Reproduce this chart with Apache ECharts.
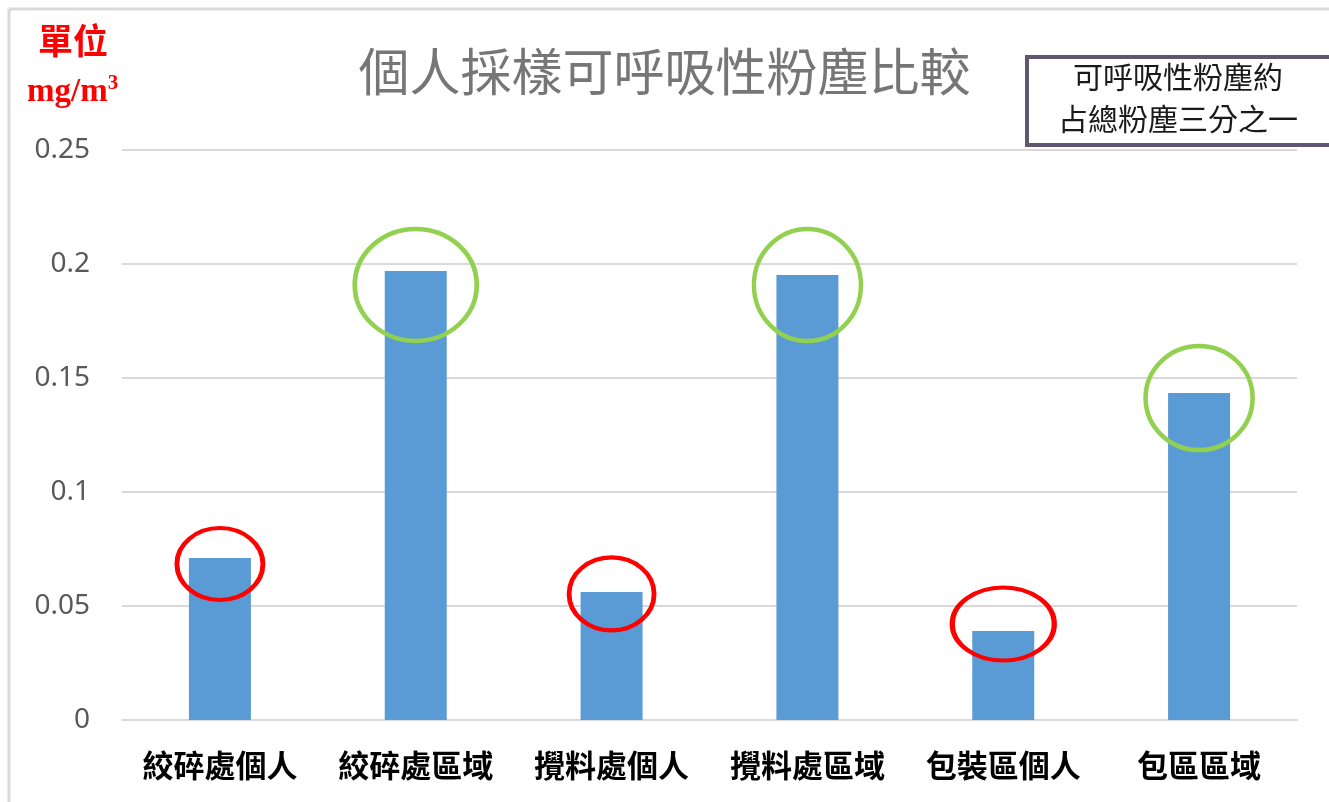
<!DOCTYPE html>
<html>
<head>
<meta charset="utf-8">
<script src="https://cdn.jsdelivr.net/npm/echarts@6/dist/echarts.min.js"></script>
<style>
  html, body { margin: 0; padding: 0; background: #ffffff; }
  #chart { width: 1329px; height: 802px; }
</style>
</head>
<body>
<div id="chart"></div>
<script>
// Sampling locations (personal vs. area sampling)
const categories = ['絞碎處個人', '絞碎處區域', '攪料處個人', '攪料處區域', '包裝區個人', '包區區域'];
// Respirable dust concentration, mg/m3
const dustValues = [0.0711, 0.1969, 0.0561, 0.1952, 0.0390, 0.1434];
// Y axis ticks
const yMin = 0;
const yMax = 0.25;
const yStep = 0.05;
// Highlight rings: centre value and ring size for each bar
const ringCenters = [0.0684, 0.1908, 0.0553, 0.1908, 0.0421, 0.1412];
const ringSizes = [[86, 72], [122, 112], [85, 73], [107, 112], [102, 73], [107, 104]];
const ringColors = ['#ff0000', '#92d050', '#ff0000', '#92d050', '#ff0000', '#92d050'];

const chart = echarts.init(document.getElementById('chart'), null, { renderer: 'canvas' });

const ringData = categories.map((c, i) => ({
  value: [c, ringCenters[i]],
  symbolSize: ringSizes[i],
  itemStyle: { color: 'rgba(0,0,0,0)', borderColor: ringColors[i], borderWidth: 4.5, opacity: 1 }
}));

chart.setOption({
  backgroundColor: '#ffffff',
  animation: false,
  title: {
    text: '個人採樣可呼吸性粉塵比較',
    left: 'center',
    top: 41,
    textStyle: {
      fontFamily: 'Noto Sans CJK TC',
      fontWeight: 'normal',
      fontSize: 51,
      color: '#767676'
    }
  },
  grid: { left: 122, right: 32, top: 150, bottom: 82 },
  xAxis: {
    type: 'category',
    data: categories,
    axisTick: { show: false },
    axisLine: { lineStyle: { color: '#d9d9d9', width: 2 } },
    axisLabel: {
      interval: 0,
      hideOverlap: false,
      margin: 30,
      fontFamily: 'Noto Sans CJK TC',
      fontWeight: 'bold',
      fontSize: 31,
      color: '#000000'
    }
  },
  yAxis: {
    type: 'value',
    min: yMin,
    max: yMax,
    interval: yStep,
    axisLine: { show: false },
    axisTick: { show: false },
    splitLine: { lineStyle: { color: '#d9d9d9', width: 2 } },
    axisLabel: {
      margin: 32,
      fontFamily: 'Noto Sans',
      fontSize: 28,
      color: '#595959',
      formatter: v => String(+v.toFixed(2))
    }
  },
  series: [
    {
      type: 'bar',
      data: dustValues,
      barWidth: 62,
      itemStyle: { color: '#5b9bd5' },
      z: 2
    },
    {
      type: 'scatter',
      data: ringData,
      symbol: 'circle',
      z: 3,
      silent: true
    }
  ],
  graphic: [
    // outer frame (top and left edges)
    { type: 'line', shape: { x1: 9, y1: 9, x2: 1329, y2: 9 }, style: { stroke: '#d9d9d9', lineWidth: 3 } },
    { type: 'line', shape: { x1: 9, y1: 9, x2: 9, y2: 802 }, style: { stroke: '#d9d9d9', lineWidth: 3 } },
    // unit label
    {
      type: 'text', left: 38, top: 23,
      style: { text: '單位', font: 'bold 35px "Noto Sans CJK TC"', fill: '#ff0000' }
    },
    {
      type: 'text', left: 27, top: 73,
      style: {
        text: '{a|mg/m}{b|3}',
        rich: {
          a: { font: 'bold 33px "Liberation Serif"', fill: '#ff0000', verticalAlign: 'bottom' },
          b: { font: 'bold 21px "Liberation Serif"', fill: '#ff0000', verticalAlign: 'top', padding: [0, 0, 15, 0] }
        },
        fill: '#ff0000'
      }
    },
    // note box
    {
      type: 'rect',
      shape: { x: 1027, y: 57, width: 310, height: 88 },
      style: { fill: '#ffffff', stroke: '#5f5670', lineWidth: 4 },
      z: 10
    },
    {
      type: 'text',
      x: 1178, y: 98,
      z: 11,
      style: {
        text: '可呼吸性粉塵約\n占總粉塵三分之一',
        font: '30px "Noto Sans CJK TC"',
        fill: '#1a1a1a',
        align: 'center',
        verticalAlign: 'middle',
        lineHeight: 42
      }
    }
  ]
});
</script>
</body>
</html>
